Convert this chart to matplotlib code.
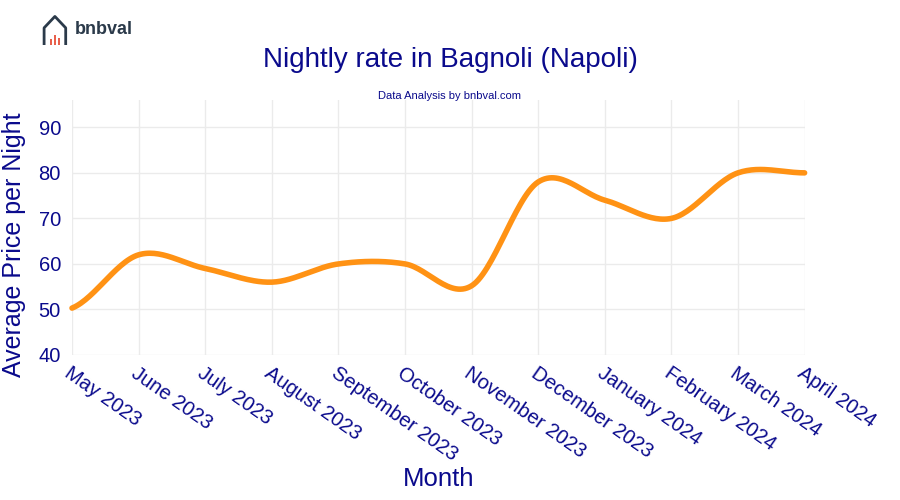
import matplotlib
matplotlib.use("Agg")
import matplotlib.pyplot as plt
import numpy as np

plt.rcParams["font.family"] = "Liberation Sans"

months = ["May 2023", "June 2023", "July 2023", "August 2023", "September 2023", "October 2023",
          "November 2023", "December 2023", "January 2024", "February 2024", "March 2024", "April 2024"]
prices = [50.3, 62, 59, 56, 60, 60, 55.2, 78, 74, 70, 80, 80]
yticks = [40, 50, 60, 70, 80, 90]

def catmull(y, n=30, tension=0.5):
    y = np.asarray(y, float)
    x = np.arange(len(y), dtype=float)
    px, py = [], []
    for i in range(len(y) - 1):
        p0 = y[max(i - 1, 0)]; p1 = y[i]; p2 = y[i + 1]; p3 = y[min(i + 2, len(y) - 1)]
        m1 = tension * (p2 - p0) if i > 0 else (p2 - p1) * tension
        m2 = tension * (p3 - p1) if i + 2 < len(y) else (p2 - p1) * tension
        t = np.linspace(0, 1, n, endpoint=False)
        h00 = 2*t**3 - 3*t**2 + 1; h10 = t**3 - 2*t**2 + t
        h01 = -2*t**3 + 3*t**2; h11 = t**3 - t**2
        px.extend(x[i] + t); py.extend(h00*p1 + h10*m1 + h01*p2 + h11*m2)
    px.append(x[-1]); py.append(y[-1])
    return np.array(px), np.array(py)

navy = "#0a0a8c"
fig = plt.figure(figsize=(9, 5), dpi=100)
ax = fig.add_axes([0.08, 0.29, 0.814, 0.51])
sx, sy = catmull(prices)
ax.plot(sx, sy, color="#ff9214", lw=4, solid_capstyle="round", clip_on=False)
ax.set_xlim(0, len(months) - 1)
ax.set_ylim(40, 96)
ax.set_yticks(yticks)
ax.set_xticks(range(len(months)))
ax.set_xticklabels(months, rotation=-35, ha="left", rotation_mode="anchor", fontsize=14.5, color=navy)
ax.tick_params(axis="y", labelsize=14.5, labelcolor=navy, length=0, pad=8)
ax.tick_params(axis="x", length=0, pad=6)
ax.grid(color="#ebebeb", lw=1)
for s in ax.spines.values():
    s.set_visible(False)
fig.text(0.016, 0.51, "Average Price per Night", rotation=90, ha="center", va="center", fontsize=18, color=navy)
ax.set_xlabel("Month", fontsize=18.5, color=navy, labelpad=2)
fig.text(0.5, 0.88, "Nightly rate in Bagnoli (Napoli)", ha="center", va="center", fontsize=20, color=navy)
fig.text(0.5, 0.808, "Data Analysis by bnbval.com", ha="center", va="center", fontsize=8, color=navy)
# logo
fig.text(0.083, 0.94, "bnbval", ha="left", va="center", fontsize=13, fontweight="bold", color="#2b3a4a")
lx = fig.add_axes([0.046, 0.91, 0.03, 0.06]); lx.axis("off")
lx.plot([0.1, 0.1, 0.5, 0.9, 0.9], [0, 0.6, 1, 0.6, 0], color="#2b3a4a", lw=2)
lx.bar([0.35, 0.5, 0.65], [0.2, 0.35, 0.25], width=0.1, color="#e8604c")
lx.set_xlim(0, 1); lx.set_ylim(0, 1.05)
fig.savefig("out.png", dpi=100)
